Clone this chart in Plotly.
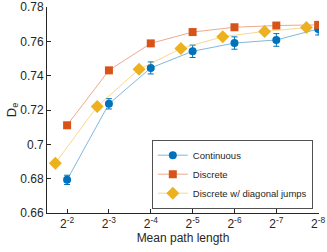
import plotly.graph_objects as go

# x positions given as base-2 exponents of the mean path length
x_exp = [-2, -3, -4, -5, -6, -7, -8]
x_exp_diag = [-1.72, -2.72, -3.72, -4.72, -5.72, -6.72, -7.72]

continuous = [0.6793, 0.7236, 0.7445, 0.7542, 0.7590, 0.7608, 0.7672]
continuous_err = [0.0027, 0.0030, 0.0035, 0.0036, 0.0036, 0.0037, 0.0035]
discrete = [0.7111, 0.7431, 0.7588, 0.7654, 0.7682, 0.7692, 0.7696]
diagonal = [0.6890, 0.7221, 0.7437, 0.7558, 0.7627, 0.7658, 0.7680]

tick_vals = [-2, -3, -4, -5, -6, -7, -8]
tick_text = ["2<sup>-2</sup>", "2<sup>-3</sup>", "2<sup>-4</sup>", "2<sup>-5</sup>",
             "2<sup>-6</sup>", "2<sup>-7</sup>", "2<sup>-8</sup>"]
y_ticks = [0.66, 0.68, 0.70, 0.72, 0.74, 0.76, 0.78]
y_text = ["0.66", "0.68", "0.7", "0.72", "0.74", "0.76", "0.78"]

blue = "#0072BD"
red = "#D95319"
yellow = "#EDB120"

fig = go.Figure()
fig.add_trace(go.Scatter(
    x=x_exp, y=continuous, mode="lines+markers", name="Continuous",
    line=dict(color="rgba(0,114,189,0.5)", width=1),
    marker=dict(color=blue, size=8, symbol="circle"),
    error_y=dict(type="data", array=continuous_err, color=blue, thickness=1, width=3),
))
fig.add_trace(go.Scatter(
    x=x_exp, y=discrete, mode="lines+markers", name="Discrete",
    line=dict(color="rgba(217,83,25,0.5)", width=1),
    marker=dict(color=red, size=8, symbol="square"),
))
fig.add_trace(go.Scatter(
    x=x_exp_diag, y=diagonal, mode="lines+markers", name="Discrete w/ diagonal jumps",
    line=dict(color="rgba(237,177,32,0.5)", width=1),
    marker=dict(color=yellow, size=10, symbol="diamond"),
))

FAM = "Liberation Sans, Arial, sans-serif"
axis_font = dict(family=FAM, size=12, color="#262626")

fig.update_layout(
    width=327, height=252,
    margin=dict(l=47, r=8, t=7, b=39),
    paper_bgcolor="white", plot_bgcolor="white",
    font=axis_font,
    showlegend=True,
    legend=dict(
        x=0.978, y=0.02, xanchor="right", yanchor="bottom",
        bgcolor="white", bordercolor="#262626", borderwidth=0.8,
        font=dict(family=FAM, size=9.5, color="#262626"),
        tracegroupgap=0, itemwidth=30,
    ),
    xaxis=dict(
        range=[-1.52, -8.02], tickvals=tick_vals, ticktext=tick_text,
        showgrid=False, zeroline=False, showline=True, linecolor="#262626", linewidth=0.8,
        ticks="inside", ticklen=4, tickcolor="#262626", tickfont=axis_font,
        automargin=False, ticklabeloverflow="allow",
        title=dict(text="Mean path length", font=axis_font, standoff=2),
    ),
    yaxis=dict(
        range=[0.66, 0.78], tickvals=y_ticks, ticktext=y_text,
        showgrid=False, zeroline=False, showline=True, linecolor="#262626", linewidth=0.8,
        ticks="inside", ticklen=4, tickcolor="#262626", tickfont=axis_font,
        automargin=False, ticklabeloverflow="allow",
        title=dict(text="D<sub>e</sub>", font=dict(family=FAM, size=13, color="#262626"), standoff=0),
    ),
)

fig.write_html(
    "out.html",
    config={"displayModeBar": False},
    post_script="document.body.style.margin='0';document.body.style.padding='0';",
)
